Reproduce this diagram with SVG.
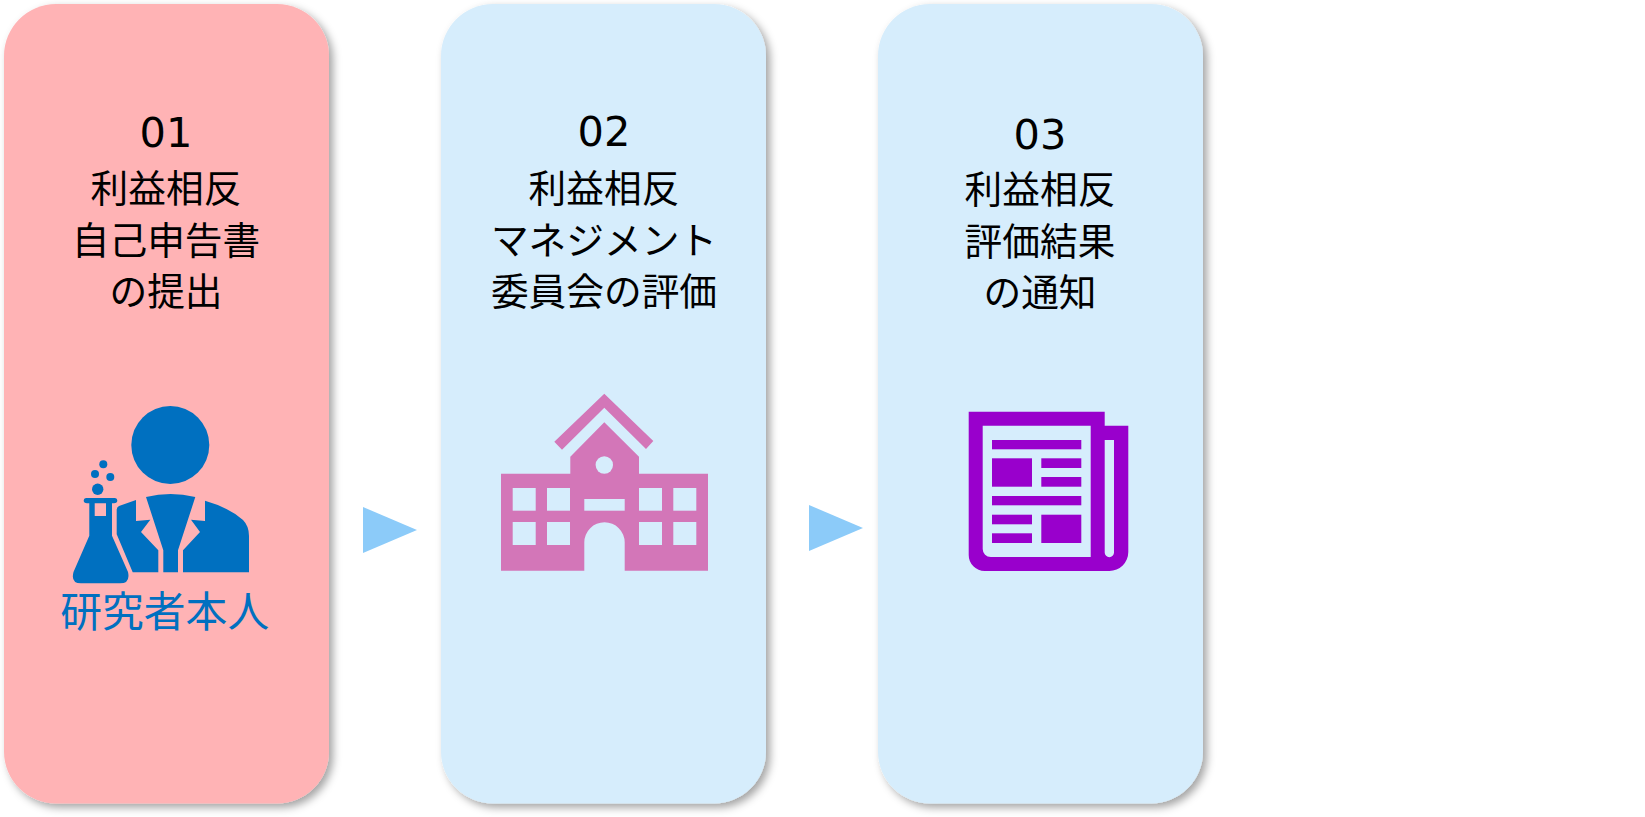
<svg xmlns="http://www.w3.org/2000/svg" width="1645" height="817" viewBox="0 0 1645 817">
<defs>
<style>
.card{filter:url(#sh)}
.pink{fill:#FFB3B5}
.blue{fill:#D6EDFC}
.t{font-family:"DejaVu Sans","Noto Sans CJK JP","Noto Sans",sans-serif;font-size:37.700px;fill:#000;text-anchor:middle}
.n{font-size:41.500px}
.arrow{fill:#8CCBF9}
.ic1{fill:#0070C0}
.ic2{fill:#D376B8}
.ic3{fill:#9900CC}
.bg{fill:#D6EDFC}
</style>
<filter id="sh" x="-10%" y="-5%" width="125%" height="112%">
<feDropShadow dx="4" dy="4" stdDeviation="4" flood-color="#000" flood-opacity="0.36"/>
</filter>
</defs>
<rect width="1645" height="817" fill="#fff"/>
<g id="connectors">
<polygon class="arrow" points="363,507 417,530 363,553"/>
<polygon class="arrow" points="809,505 863,528 809,551"/>
</g>
<g id="node-01">
<rect class="card pink" x="4" y="4" width="325" height="799.500" rx="52" ry="52"/>
<text class="t n" x="166" y="147">01</text>
<text class="t" x="166" y="202">利益相反</text>
<text class="t" x="166" y="254">自己申告書</text>
<text class="t" x="166" y="305">の提出</text>
<g class="ic1">
<circle cx="170.300" cy="445" r="39"/>
<path d="M146,497Q170.500,491 195.300,497L178,550.300V572.300H163.300V550.300Z"/>
<path d="M205,500.700Q228,507 243,520Q249,526 249,536V572.300H183V550.300L200,532L191,519.700L205,521Z"/>
<path d="M136,500L119,506Q116.700,507 116.700,510V534.300L132.700,572.300H158.300V550.300L141,532L150.300,519.700L136,521Z"/>
<path fill-rule="evenodd" d="M86,498H115Q117.300,498 117.300,500.500Q117.300,503.300 114,503.300H112V535.700L128,572Q130.500,583.300 120,583.300H81Q70.500,583.300 73.500,572L89.300,535.700V503.300H87Q83.700,503.300 83.700,500.500Q83.700,498 86,498ZM94.700,503.300V516H106V503.300Z"/>
<circle cx="97.700" cy="489.300" r="5.700"/>
<circle cx="95" cy="474" r="4"/>
<circle cx="110.300" cy="477" r="4"/>
<circle cx="103.300" cy="464.300" r="4"/>
</g>
<text x="164.700" y="627" style="font-family:'Noto Sans CJK JP',sans-serif;font-size:41.800px;fill:#0070C0;text-anchor:middle">研究者本人</text>
</g>
<g id="node-02">
<rect class="card blue" x="441" y="4" width="325" height="799.500" rx="52" ry="52"/>
<text class="t n" x="604" y="146">02</text>
<text class="t" x="604" y="202">利益相反</text>
<text class="t" x="604" y="254">マネジメント</text>
<text class="t" x="604" y="305">委員会の評価</text>
<g class="ic2">
<polygon points="604.300,393.700 653.300,441 646,449 604.300,407.700 562,449.700 554.300,441.700"/>
<path fill-rule="evenodd" d="M604.300,422.300L639,456.700V473.700H708V570.700H624.700V542.300A20.200,20 0 0 0 584.300,542.300V570.700H501V473.700H570.300V456.700Z"/>
</g>
<g class="bg">
<circle cx="604.300" cy="465" r="8.700"/>
<rect x="512.700" y="488" width="23" height="22.700"/>
<rect x="547" y="488" width="23" height="22.700"/>
<rect x="512.700" y="522" width="23" height="23"/>
<rect x="547" y="522" width="23" height="23"/>
<rect x="639" y="488" width="23" height="22.700"/>
<rect x="673.300" y="488" width="23" height="22.700"/>
<rect x="639" y="522" width="23" height="23"/>
<rect x="673.300" y="522" width="23" height="23"/>
<rect x="584.300" y="499" width="40.400" height="11.700"/>
</g>
</g>
<g id="node-03">
<rect class="card blue" x="878" y="4" width="325" height="799.500" rx="52" ry="52"/>
<text class="t n" x="1040" y="149">03</text>
<text class="t" x="1040" y="203">利益相反</text>
<text class="t" x="1040" y="255">評価結果</text>
<text class="t" x="1040" y="306">の通知</text>
<g class="ic3">
<path fill-rule="evenodd" d="M968.700,411.700H1104.700V425.700H1128.300V552A19,19 0 0 1 1109.300,571H984.700A16,16 0 0 1 968.700,555ZM982.700,425.700V549A8,8 0 0 0 990.700,557H1090.700V425.700ZM1104.700,440V552.500A4.650,4.650 0 0 0 1114,552.500V440Z"/>
<rect x="992" y="440" width="89.300" height="9.300"/>
<rect x="992" y="458.300" width="40" height="28.400"/>
<rect x="1041.300" y="458.300" width="40" height="9.700"/>
<rect x="1041.300" y="477" width="40" height="9.700"/>
<rect x="992" y="496" width="89.300" height="9.300"/>
<rect x="992" y="514.700" width="40" height="9.600"/>
<rect x="992" y="533.300" width="40" height="9.700"/>
<rect x="1041.300" y="514.700" width="40" height="28.300"/>
</g>
</g>
</svg>
